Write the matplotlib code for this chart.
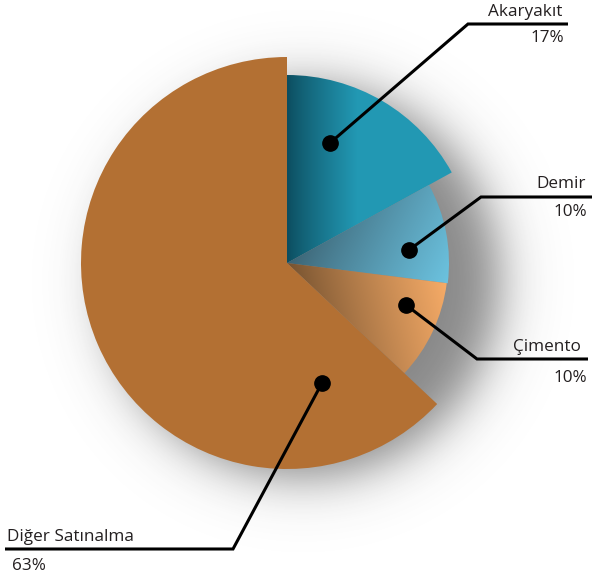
import numpy as np
import matplotlib
matplotlib.use("Agg")
import matplotlib.pyplot as plt
from matplotlib.patches import Wedge
from matplotlib.colors import to_rgb

# ---- data ----
categories = ["Akaryakıt", "Demir", "Çimento", "Diğer Satınalma"]
values = [17, 10, 10, 63]
pct_labels = ["17%", "10%", "10%", "63%"]

# ---- style / layout ----
W, H = 593, 580
CX, CY = 287, 580 - 263            # pie centre (data units = pixels, y up)
radii = [188, 162, 161, 206]        # each slice drawn with its own radius
dark_cols = ["#0c4c5e", "#3b6171", "#74512f", "#b37033"]
light_cols = ["#2298b3", "#6fc9e7", "#f6ab67", "#b37033"]
# gradient direction (pixel dx, dy with y down) and length
grad_dir = [(1.0, 0.0), (1.0, 0.5), (1.0, -0.25), (1.0, 0.0)]
grad_len = [70, 165, 150, 1]
text_col = "#231f20"

# label layout: dot position (pixel), elbow (pixel), line end x, text anchor
dots = [(330, 143), (409, 250), (406, 305), (322, 383)]
elbows = [(468, 24), (481, 197), (477, 359), (233, 549)]
ends_x = [568, 592, 588, 5]
name_pos = [(562, 12), (586, 184), (581, 347), (7, 537)]
pct_pos = [(564, 38), (587, 212), (587, 378), (12, 566)]
aligns = ["right", "right", "right", "left"]
FONT = ["Open Sans", "DejaVu Sans"]
FS = 12.3

fig = plt.figure(figsize=(W / 100, H / 100), dpi=100)
ax = fig.add_axes([0, 0, 1, 1])
ax.set_xlim(0, W)
ax.set_ylim(0, H)
ax.set_aspect("equal")
ax.axis("off")

# ---- soft shadow behind the pie ----
xs = np.arange(W) + 0.5
ys = np.arange(H) + 0.5
X, Y = np.meshgrid(xs, ys)
d = np.hypot(X - (CX + 16), Y - (CY - 18))
shadow_a = 0.6 / (1 + np.exp((d - 196) / 15.0))
sh = np.zeros((H, W, 4))
sh[..., :3] = 0.22
sh[..., 3] = shadow_a
ax.imshow(sh, extent=(0, W, 0, H), origin="lower", zorder=0, interpolation="bilinear")

# ---- wedges ----
total = float(sum(values))
start = 90.0
for i, v in enumerate(values):
    sweep = 360.0 * v / total
    t1, t2 = start - sweep, start
    start -= sweep
    r = radii[i]
    w = Wedge((CX, CY), r, t1, t2, facecolor="none", edgecolor="none", zorder=2)
    ax.add_patch(w)
    # gradient image clipped to wedge
    dx, dy = grad_dir[i]
    n = np.hypot(dx, dy)
    dx, dy = dx / n, dy / n
    proj = (X - CX) * dx + (-(Y - CY)) * dy
    t = np.clip(proj / grad_len[i], 0, 1) ** 0.85
    c0 = np.array(to_rgb(dark_cols[i]))
    c1 = np.array(to_rgb(light_cols[i]))
    img = c0[None, None, :] + (c1 - c0)[None, None, :] * t[..., None]
    im = ax.imshow(img, extent=(0, W, 0, H), origin="lower", zorder=2,
                   interpolation="bilinear")
    im.set_clip_path(w)

# ---- leader lines, dots, text ----
for i in range(len(categories)):
    px, py = dots[i]
    ex, ey = elbows[i]
    xs_l = [px, ex, ends_x[i]]
    ys_l = [H - py, H - ey, H - ey]
    ax.plot(xs_l, ys_l, color="black", lw=2.2, solid_capstyle="butt",
            solid_joinstyle="miter", zorder=4)
    ax.plot([px], [H - py], "o", color="black", ms=11, zorder=5)
    nx, ny = name_pos[i]
    ax.text(nx, H - ny, categories[i], ha=aligns[i], va="center",
            fontsize=FS, family=FONT, color=text_col, zorder=6)
    qx, qy = pct_pos[i]
    ax.text(qx, H - qy, pct_labels[i], ha=aligns[i], va="center",
            fontsize=FS, family=FONT, color=text_col, zorder=6)

fig.savefig("out.png", dpi=100)
